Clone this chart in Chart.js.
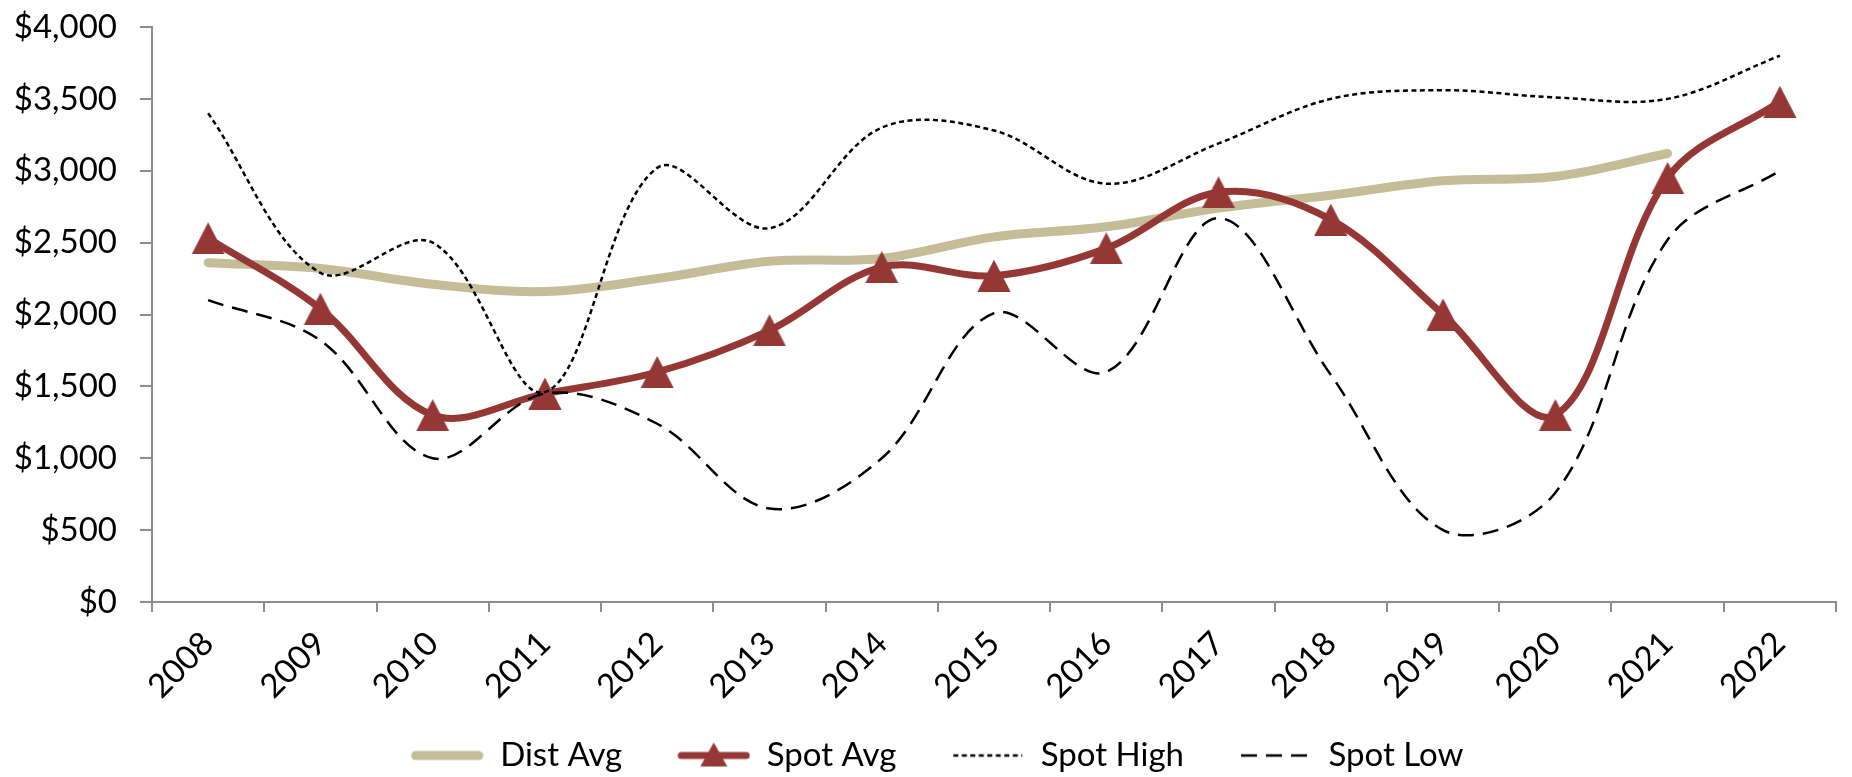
<!DOCTYPE html>
<html>
<head>
<meta charset="utf-8">
<script src="https://cdn.jsdelivr.net/npm/chart.js@4.4.1/dist/chart.umd.min.js"></script>
<style>
  html, body { margin: 0; padding: 0; background: #ffffff; }
  #wrap { width: 1852px; height: 777px; }
</style>
</head>
<body>
<div id="wrap"><canvas id="c" width="1852" height="777"></canvas></div>
<script>
// ---- data ----
const years = ['2008','2009','2010','2011','2012','2013','2014','2015','2016','2017','2018','2019','2020','2021','2022'];
const distAvg  = [2360, 2320, 2210, 2160, 2250, 2370, 2390, 2540, 2610, 2740, 2830, 2930, 2960, 3120, null];
const spotAvg  = [2530, 2040, 1300, 1450, 1600, 1890, 2330, 2270, 2460, 2850, 2660, 2000, 1300, 2950, 3480];
const spotHigh = [3400, 2290, 2500, 1460, 3020, 2600, 3300, 3280, 2910, 3190, 3500, 3560, 3510, 3500, 3800];
const spotLow  = [2100, 1820, 1000, 1450, 1240, 650, 1000, 2010, 1600, 2670, 1580, 500, 760, 2520, 3000];
const seriesNames = ['Dist Avg', 'Spot Avg', 'Spot High', 'Spot Low'];
const yMin = 0, yMax = 4000, yStep = 500;

// ---- styles ----
const FONT = 'Lato, "Open Sans", "Noto Sans", sans-serif';
const FS = 33;
const TAN = '#c4bd97';
const RED = '#953735';
const AXIS = '#8c8c8c';

function makeCanvas(w, h, draw) {
  const cv = document.createElement('canvas');
  cv.width = w; cv.height = h;
  draw(cv.getContext('2d'), w, h);
  return cv;
}
function tri(ctx, cx, cy, w, h, color) {
  ctx.fillStyle = color;
  ctx.beginPath();
  ctx.moveTo(cx, cy - h / 2);
  ctx.lineTo(cx + w / 2, cy + h / 2);
  ctx.lineTo(cx - w / 2, cy + h / 2);
  ctx.closePath();
  ctx.fill();
}
const triMarker = makeCanvas(34, 32, (ctx, w, h) => tri(ctx, w / 2, h / 2, 33, 32, RED));

// legend icons: transparent lead-in (LPAD) + 73px symbol
const LPAD = 22, SYM = 73, LW = LPAD + SYM, LH = 34;
const legendIcons = [
  makeCanvas(LW, LH, (ctx, w, h) => {
    ctx.strokeStyle = TAN; ctx.lineWidth = 9; ctx.lineCap = 'round';
    ctx.beginPath(); ctx.moveTo(LPAD + 5, h / 2); ctx.lineTo(w - 5, h / 2); ctx.stroke();
  }),
  makeCanvas(LW, LH, (ctx, w, h) => {
    ctx.strokeStyle = RED; ctx.lineWidth = 7; ctx.lineCap = 'round';
    ctx.beginPath(); ctx.moveTo(LPAD + 4, h / 2); ctx.lineTo(w - 4, h / 2); ctx.stroke();
    tri(ctx, LPAD + SYM / 2, h / 2 - 1, 27, 24, RED);
  }),
  makeCanvas(LW, LH, (ctx, w, h) => {
    ctx.strokeStyle = '#000'; ctx.lineWidth = 2.5; ctx.setLineDash([5, 3.5]);
    ctx.beginPath(); ctx.moveTo(LPAD + 2, h / 2); ctx.lineTo(w - 2, h / 2); ctx.stroke();
  }),
  makeCanvas(LW, LH, (ctx, w, h) => {
    ctx.strokeStyle = '#000'; ctx.lineWidth = 2.5; ctx.setLineDash([16, 9]);
    ctx.beginPath(); ctx.moveTo(LPAD + 2, h / 2); ctx.lineTo(w - 2, h / 2); ctx.stroke();
  })
];

const TENSION = 0.35;

new Chart(document.getElementById('c'), {
  type: 'line',
  data: {
    labels: years,
    datasets: [
      { label: seriesNames[0], data: distAvg, borderColor: TAN, backgroundColor: TAN, borderWidth: 9,
        borderCapStyle: 'round', borderJoinStyle: 'round', pointRadius: 0, tension: TENSION, order: 4 },
      { label: seriesNames[1], data: spotAvg, borderColor: RED, backgroundColor: RED, borderWidth: 7,
        borderCapStyle: 'round', borderJoinStyle: 'round', pointStyle: triMarker, pointRadius: 16,
        pointBackgroundColor: RED, pointBorderWidth: 0, tension: TENSION, order: 3 },
      { label: seriesNames[2], data: spotHigh, borderColor: '#000', backgroundColor: '#000', borderWidth: 2.5,
        borderDash: [5, 3.5], pointRadius: 0, tension: TENSION, order: 2 },
      { label: seriesNames[3], data: spotLow, borderColor: '#000', backgroundColor: '#000', borderWidth: 2.5,
        borderDash: [16, 9], pointRadius: 0, tension: TENSION, order: 1 }
    ]
  },
  options: {
    responsive: false,
    animation: false,
    events: [],
    layout: { padding: { top: 27, right: 0, left: 0, bottom: -5 } },
    plugins: {
      tooltip: { enabled: false },
      title: { display: false },
      legend: {
        position: 'bottom',
        labels: {
          usePointStyle: true,
          pointStyleWidth: LW,
          padding: 33,
          color: '#000',
          font: { family: FONT, size: FS },
          generateLabels: (chart) => chart.data.datasets.map((ds, i) => ({
            text: ds.label,
            pointStyle: legendIcons[i],
            fillStyle: 'rgba(0,0,0,0)',
            strokeStyle: 'rgba(0,0,0,0)',
            lineWidth: 0,
            hidden: false,
            datasetIndex: i
          }))
        }
      }
    },
    scales: {
      x: {
        offset: true,
        grid: { offset: true, drawOnChartArea: false, drawTicks: true, tickLength: 10, color: AXIS, lineWidth: 2 },
        border: { display: true, color: AXIS, width: 2 },
        ticks: { color: '#000', font: { family: FONT, size: FS }, minRotation: 45, maxRotation: 45, padding: 12, autoSkip: false },
        afterFit: (scale) => { scale.height = 104; }
      },
      y: {
        min: yMin, max: yMax,
        grid: { drawOnChartArea: false, drawTicks: true, tickLength: 12, color: AXIS, lineWidth: 2 },
        border: { display: true, color: AXIS, width: 2 },
        ticks: { stepSize: yStep, color: '#000', font: { family: FONT, size: FS }, padding: 23,
          callback: (v) => '$' + Number(v).toLocaleString('en-US') },
        afterFit: (scale) => { scale.width = 152; scale.paddingTop = 0; }
      }
    }
  }
});
</script>
</body>
</html>
